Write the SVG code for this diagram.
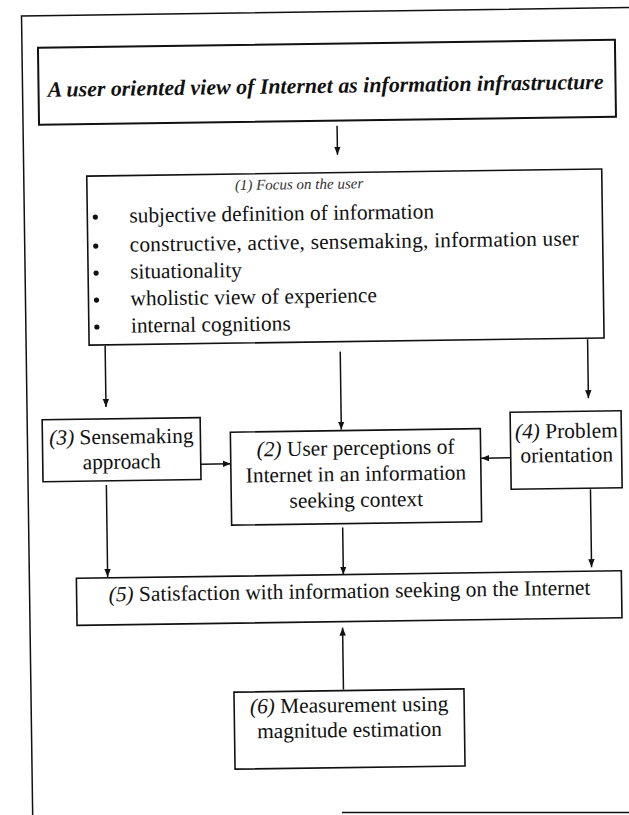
<svg xmlns="http://www.w3.org/2000/svg" width="629" height="815" viewBox="0 0 629 815">
<defs>
<marker id="ah" viewBox="0 0 10 10" refX="10" refY="5" markerWidth="8" markerHeight="8" markerUnits="userSpaceOnUse" orient="auto"><path d="M0,1 L10,5 L0,9 z" fill="#111"/></marker>
</defs>
<style>
.box{fill:#fff;stroke:#111;stroke-width:1.6}
.t{font-family:"Liberation Serif","Times New Roman",Times,serif;font-size:21.4px;fill:#111}
.it{font-style:italic}
.c{text-anchor:middle}
.ln{stroke:#111;stroke-width:1.5;fill:none;marker-end:url(#ah)}
.frame{stroke:#111;stroke-width:1.5;fill:none}
.dot{fill:#111}
</style>
<rect width="629" height="815" fill="#fff"/>
<path class="frame" d="M342,812.5 L629,812.5"/>
<g transform="rotate(-0.8 314 407)">
<path class="frame" d="M27,818 L27,12 L640,12"/>
<g id="title">
<rect class="box" x="43" y="44" width="577" height="77" style="stroke-width:2"/>
<text class="t c" x="330" y="93" style="font-weight:bold;font-style:italic;font-size:21.8px" textLength="556">A user oriented view of Internet as information infrastructure</text>
</g>
<g id="n1">
<rect class="box" x="90" y="173" width="515" height="169"/>
<text class="t it" x="238" y="189" style="font-size:15px;fill:#333">(1) Focus on the user</text>
<circle class="dot" cx="98" cy="214" r="2.6"/>
<circle class="dot" cx="98" cy="243" r="2.6"/>
<circle class="dot" cx="98" cy="270" r="2.6"/>
<circle class="dot" cx="98" cy="297" r="2.6"/>
<circle class="dot" cx="98" cy="324" r="2.6"/>
<text class="t" x="132" y="220">subjective definition of information</text>
<text class="t" x="132" y="249" textLength="449">constructive, active, sensemaking, information user</text>
<text class="t" x="132" y="276">situationality</text>
<text class="t" x="132" y="303">wholistic view of experience</text>
<text class="t" x="132" y="330">internal cognitions</text>
</g>
<g id="n3">
<rect class="box" x="42" y="416" width="158" height="62"/>
<text class="t c" x="121" y="441"><tspan class="it">(3)</tspan> Sensemaking</text>
<text class="t c" x="121" y="466">approach</text>
</g>
<g id="n2">
<rect class="box" x="230" y="431" width="250" height="93"/>
<text class="t c" x="355" y="455.5"><tspan class="it">(2)</tspan> User perceptions of</text>
<text class="t c" x="355" y="481.5">Internet in an information</text>
<text class="t c" x="355" y="507.5">seeking context</text>
</g>
<g id="n4">
<rect class="box" x="510" y="415" width="111" height="77"/>
<text class="t c" x="566" y="441.5"><tspan class="it">(4)</tspan> Problem</text>
<text class="t c" x="566" y="465.5">orientation</text>
</g>
<g id="n5">
<rect class="box" x="74" y="575" width="545" height="47"/>
<text class="t c" x="347" y="598.5"><tspan class="it">(5)</tspan> Satisfaction with information seeking on the Internet</text>
</g>
<g id="n6">
<rect class="box" x="230" y="691" width="230" height="77"/>
<text class="t c" x="345" y="712.5"><tspan class="it">(6)</tspan> Measurement using</text>
<text class="t c" x="345" y="737.5">magnitude estimation</text>
</g>
<g id="connectors">
<line class="ln" x1="341" y1="126" x2="341" y2="155"/>
<line class="ln" x1="106" y1="343" x2="106" y2="404"/>
<line class="ln" x1="341" y1="352" x2="341" y2="430"/>
<line class="ln" x1="588.5" y1="343" x2="588.5" y2="402"/>
<line class="ln" x1="200" y1="462.6" x2="230" y2="462.6"/>
<line class="ln" x1="510" y1="460.5" x2="480.5" y2="460.5"/>
<line class="ln" x1="105.3" y1="482" x2="105.3" y2="574"/>
<line class="ln" x1="341" y1="528" x2="341" y2="575"/>
<line class="ln" x1="589.3" y1="493" x2="589.3" y2="571"/>
<line class="ln" x1="339.5" y1="690" x2="339.5" y2="628"/>
</g>
</g>
</svg>
